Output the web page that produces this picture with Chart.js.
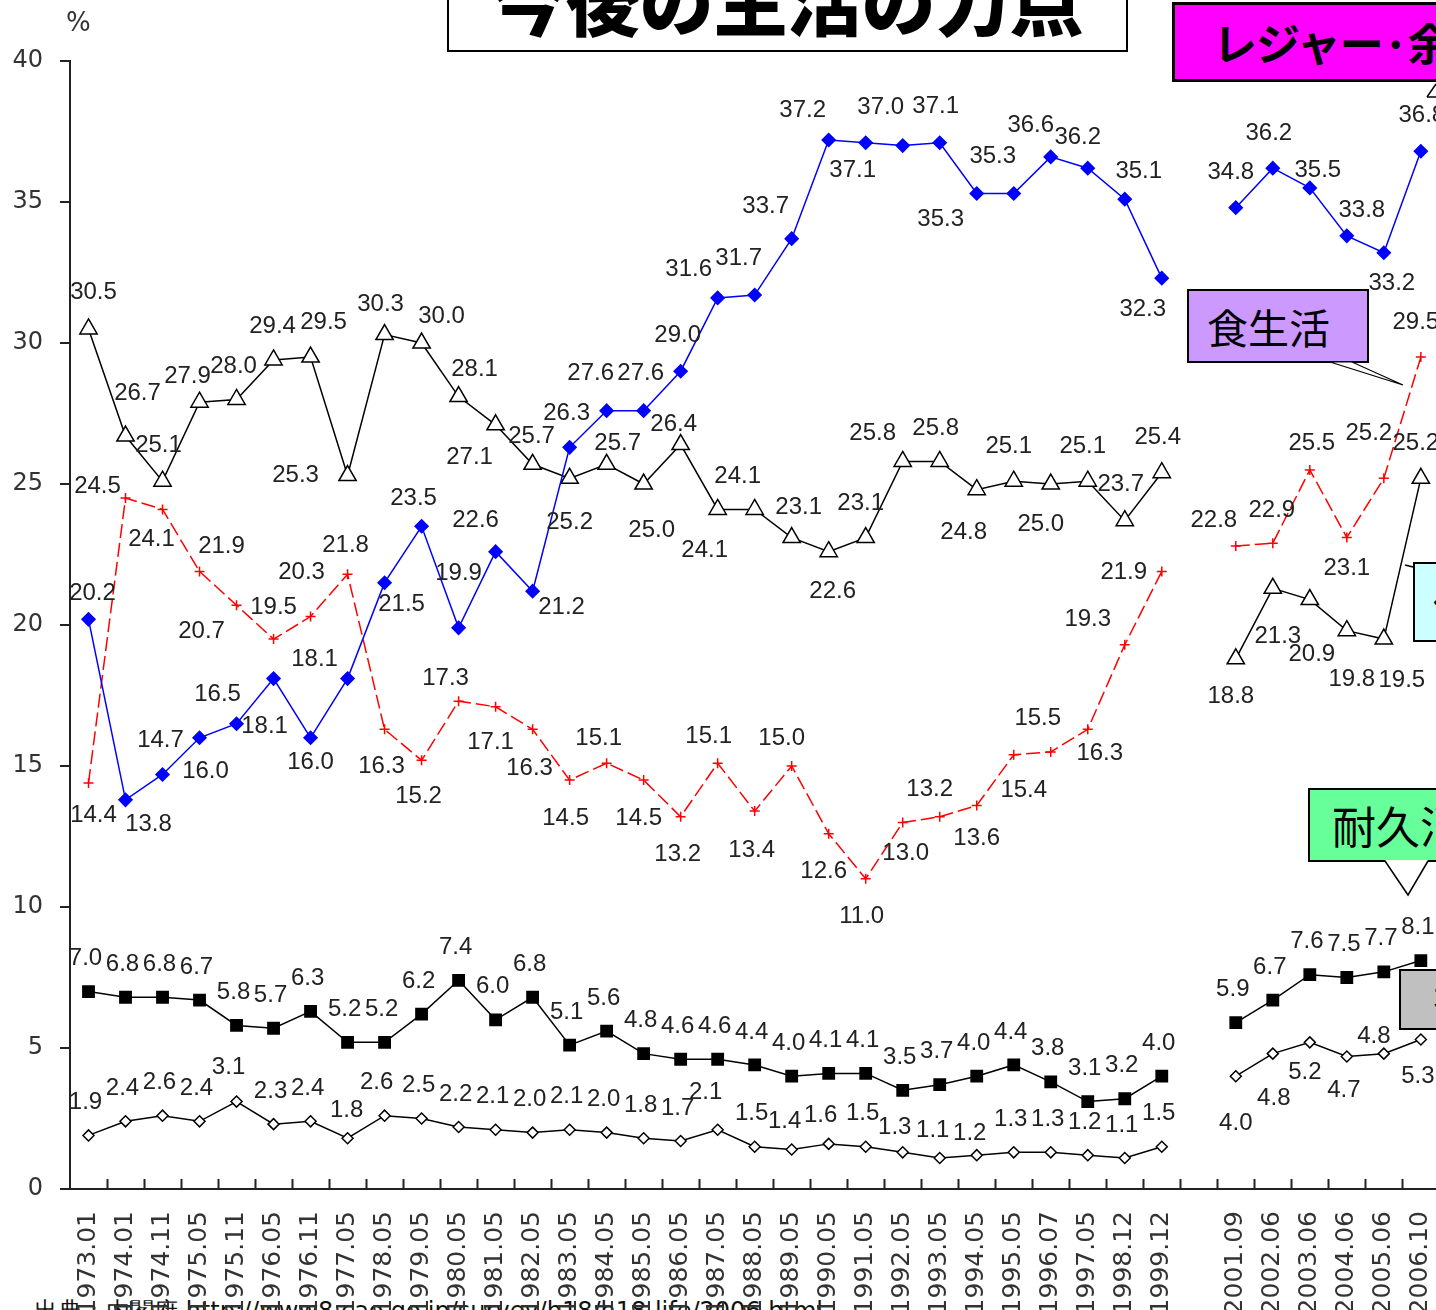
<!DOCTYPE html>
<html>
<head>
<meta charset="utf-8">
<script src="https://cdn.jsdelivr.net/npm/chart.js@4.4.1/dist/chart.umd.min.js"></script>
<style>
  html, body { margin: 0; padding: 0; background: #fff; }
  #wrap { position: relative; width: 1436px; height: 1310px; overflow: hidden; background: #fff; }
  #chart { position: absolute; left: 0; top: 0; }
  .box { position: absolute; box-sizing: border-box; border: 2px solid #000; color: #000;
         font-family: "Noto Sans CJK JP", sans-serif; white-space: nowrap; }
  #title { left: 447px; top: -50px; width: 681px; height: 102px; background: #fff; text-align: center;
           font-size: 74px; line-height: 74px; padding-top: 9px; font-weight: 900; }
  #pct { position: absolute; left: 66px; top: 7px; font: 26px "DejaVu Sans", sans-serif; color: #333; }
  #src { position: absolute; left: 34px; top: 1295px; font: 24px "DejaVu Sans", sans-serif; color: #111; white-space: nowrap; }
  svg { position: absolute; left: 0; top: 0; }
</style>
</head>
<body>
<div id="wrap">
  <div id="src">出典：内閣府 http://www8.cao.go.jp/survey/h18/h18-life/2006.html</div>
  <canvas id="chart" width="1510" height="1310"></canvas>
  <div id="pct">%</div>
  <div class="box" id="title">今後の生活の力点</div>
  <div class="box" style="left:1172px;top:2px;width:330px;height:80px;border-width:3px;background:#FF00FF;font-size:44px;line-height:74px;padding-left:38px;font-weight:bold;letter-spacing:-1px;">レジャー·余暇生活</div>
  <div class="box" style="left:1187px;top:289px;width:182px;height:74px;background:#CC99FF;font-size:41px;line-height:70px;padding-left:18px;">食生活</div>
  <div class="box" style="left:1413px;top:562px;width:200px;height:80px;background:#CCFFFF;font-size:41px;line-height:76px;padding-left:18px;">住生活</div>
  <div class="box" style="left:1308px;top:788px;width:300px;height:74px;background:#66FF99;font-size:44px;line-height:70px;padding-left:22px;">耐久消費財</div>
  <div class="box" style="left:1399px;top:969px;width:200px;height:61px;background:#C0C0C0;font-size:41px;line-height:57px;padding-left:32px;">衣生活</div>
  <svg width="1436" height="1310">
    <polygon points="1330,362 1352,362 1403,385" fill="#fff" stroke="#000" stroke-width="1.2"/>
    <polygon points="1385,860 1428,860 1408,895" fill="#fff" stroke="none"/>
    <polyline points="1385,861 1408,895 1428,861" fill="none" stroke="#000" stroke-width="1.5"/>
    <line x1="1405" y1="565" x2="1413" y2="567" stroke="#000" stroke-width="1.5"/>
    <polyline points="1427,97 1436,84" fill="none" stroke="#000" stroke-width="1.5"/>
    <line x1="1427" y1="97" x2="1436" y2="97" stroke="#000" stroke-width="1.5"/>
  </svg>
</div>
<script>
// survey dates (one empty slot between 1999.12 and 2001.09, one after 2006.10)
const categories = ['1973.01', '1974.01', '1974.11', '1975.05', '1975.11', '1976.05', '1976.11', '1977.05',
  '1978.05', '1979.05', '1980.05', '1981.05', '1982.05', '1983.05', '1984.05', '1985.05', '1986.05',
  '1987.05', '1988.05', '1989.05', '1990.05', '1991.05', '1992.05', '1993.05', '1994.05', '1995.05',
  '1996.07', '1997.05', '1998.12', '1999.12', '', '2001.09', '2002.06', '2003.06', '2004.06', '2005.06',
  '2006.10', ''];

const leisure = [20.2, 13.8, 14.7, 16.0, 16.5, 18.1, 16.0, 18.1, 21.5, 23.5, 19.9, 22.6, 21.2, 26.3, 27.6,
  27.6, 29.0, 31.6, 31.7, 33.7, 37.2, 37.1, 37.0, 37.1, 35.3, 35.3, 36.6, 36.2, 35.1, 32.3, null,
  34.8, 36.2, 35.5, 33.8, 33.2, 36.8, null];
const food = [14.4, 24.5, 24.1, 21.9, 20.7, 19.5, 20.3, 21.8, 16.3, 15.2, 17.3, 17.1, 16.3, 14.5, 15.1,
  14.5, 13.2, 15.1, 13.4, 15.0, 12.6, 11.0, 13.0, 13.2, 13.6, 15.4, 15.5, 16.3, 19.3, 21.9, null,
  22.8, 22.9, 25.5, 23.1, 25.2, 29.5, null];
const housing = [30.5, 26.7, 25.1, 27.9, 28.0, 29.4, 29.5, 25.3, 30.3, 30.0, 28.1, 27.1, 25.7, 25.2, 25.7,
  25.0, 26.4, 24.1, 24.1, 23.1, 22.6, 23.1, 25.8, 25.8, 24.8, 25.1, 25.0, 25.1, 23.7, 25.4, null,
  18.8, 21.3, 20.9, 19.8, 19.5, 25.2, null];
const durables = [7.0, 6.8, 6.8, 6.7, 5.8, 5.7, 6.3, 5.2, 5.2, 6.2, 7.4, 6.0, 6.8, 5.1, 5.6,
  4.8, 4.6, 4.6, 4.4, 4.0, 4.1, 4.1, 3.5, 3.7, 4.0, 4.4, 3.8, 3.1, 3.2, 4.0, null,
  5.9, 6.7, 7.6, 7.5, 7.7, 8.1, null];
const clothing = [1.9, 2.4, 2.6, 2.4, 3.1, 2.3, 2.4, 1.8, 2.6, 2.5, 2.2, 2.1, 2.0, 2.1, 2.0,
  1.8, 1.7, 2.1, 1.5, 1.4, 1.6, 1.5, 1.3, 1.1, 1.2, 1.3, 1.3, 1.2, 1.1, 1.5, null,
  4.0, 4.8, 5.2, 4.7, 4.8, 5.3, null];

const yTicks = [0, 5, 10, 15, 20, 25, 30, 35, 40];

// where each value label sits relative to its marker [dx, dy]
const leisurePos = [[4, -26], [23, 25], [-2, -34], [6, 34], [-19, -29], [-9, 48], [0, 25], [-33, -19],
  [17, 22], [-8, -28], [0, -54], [-20, -31], [29, 16], [-3, -34], [-16, -37], [-3, -37], [-3, -36],
  [-29, -29], [-16, -37], [-26, -32], [-26, -30], [-13, 28], [-22, -38], [-4, -36], [-36, 26], [-21, -37],
  [-20, -32], [-10, -31], [14, -28], [-19, 31], null, [-5, -35], [-4, -35], [8, -18], [15, -25], [8, 31],
  [1, -36], null];
const foodPos = [[5, 32], [-28, -12], [-11, 30], [22, -25], [-35, 26], [0, -32], [-9, -44], [-2, -29],
  [-3, 37], [-3, 36], [-13, -23], [-5, 36], [-3, 39], [-4, 38], [-8, -25], [-5, 38], [-3, 38], [-9, -27],
  [-3, 39], [-10, -28], [-5, 38], [-4, 38], [3, 31], [-10, -27], [0, 33], [10, 36], [-13, -34], [12, 24],
  [-37, -25], [-38, 1], null, [-22, -26], [-1, -33], [2, -27], [0, 31], [-15, -45], [-5, -35], null];
const housingPos = [[5, -37], [12, -43], [-4, -36], [-12, -26], [-3, -33], [-1, -34], [13, -35], [-52, 0],
  [-4, -30], [20, -27], [16, -27], [-26, 33], [-1, -28], [0, 44], [11, -21], [8, 46], [-7, -20], [-13, 41],
  [-17, -33], [7, -30], [4, 40], [-5, -34], [-30, -28], [-4, -33], [-13, 43], [-5, -35], [-10, 40],
  [-5, -35], [-4, -36], [-4, -35], null, [-5, 38], [5, 48], [2, 55], [5, 49], [18, 41], [-5, -35], null];
const durablesPos = {};
const clothingPos = { 4: [-8, -34], 7: [-1, -28], 8: [-8, -33], 17: [-12, -37], 19: [-7, -28], 20: [-8, -29],
  22: [-8, -25], 23: [-7, -28], 24: [-7, -22], 31: [0, 47], 32: [1, 45], 33: [-5, 30], 34: [-3, 34],
  35: [-10, -17], 36: [-3, 37] };

Chart.defaults.font.family = "'Liberation Sans', sans-serif";
Chart.defaults.color = '#333';

function series(label, data, color, style, radius, fill, labelPos, extra) {
  return Object.assign({
    label, data, labelPos,
    borderColor: color, borderWidth: 1.5,
    pointStyle: style, pointRadius: radius, pointHoverRadius: radius,
    pointBackgroundColor: fill, pointBorderColor: color, pointBorderWidth: 1.5,
    tension: 0, spanGaps: false, fill: false,
  }, extra || {});
}

const valueLabels = {
  id: 'valueLabels',
  afterDatasetsDraw(chart) {
    const ctx = chart.ctx;
    ctx.save();
    ctx.font = "24px 'Liberation Sans', sans-serif";
    ctx.fillStyle = '#222';
    ctx.textAlign = 'center';
    ctx.textBaseline = 'middle';
    chart.data.datasets.forEach((ds, di) => {
      const meta = chart.getDatasetMeta(di);
      ds.data.forEach((v, i) => {
        if (v == null) return;
        const off = ds.labelPos[i] || [-3, -33];
        const pt = meta.data[i];
        ctx.fillText(v.toFixed(1), pt.x + off[0], pt.y + off[1]);
      });
    });
    ctx.restore();
  },
};

// category boundary ticks pointing up into the plot
const innerTicks = {
  id: 'innerTicks',
  afterDraw(chart) {
    const x = chart.scales.x;
    const ctx = chart.ctx;
    const n = categories.length;
    const step = (x.right - x.left) / n;
    const yb = chart.chartArea.bottom;
    ctx.save();
    ctx.strokeStyle = '#222';
    ctx.lineWidth = 2;
    ctx.beginPath();
    for (let i = 1; i <= n; i++) {
      const px = Math.round(x.left + i * step) + 0.5;
      ctx.moveTo(px, yb);
      ctx.lineTo(px, yb - 10);
    }
    ctx.stroke();
    ctx.restore();
  },
};

new Chart(document.getElementById('chart').getContext('2d'), {
  type: 'line',
  data: {
    labels: categories,
    datasets: [
      series('レジャー·余暇生活', leisure, '#0000FF', 'rectRot', 6.5, '#0000FF', leisurePos),
      series('食生活', food, '#FF0000', 'cross', 5, '#FF0000', foodPos, { borderDash: [14, 5] }),
      series('住生活', housing, '#000', 'triangle', 10, '#fff', housingPos),
      series('耐久消費財', durables, '#000', 'rect', 8, '#000', durablesPos),
      series('衣生活', clothing, '#000', 'rectRot', 5.5, '#fff', clothingPos),
    ],
  },
  options: {
    responsive: false,
    animation: false,
    layout: { padding: { top: 61, right: 0, left: 0, bottom: 0 } },
    plugins: { legend: { display: false }, tooltip: { enabled: false } },
    scales: {
      x: {
        offset: true,
        grid: { display: false, drawTicks: false },
        border: { color: '#222', width: 2 },
        ticks: {
          autoSkip: false, minRotation: 90, maxRotation: 90, padding: 22,
          color: '#333', font: { family: "'DejaVu Sans', sans-serif", size: 25 },
        },
        afterFit(scale) { scale.height = 121; },
      },
      y: {
        min: 0, max: 40,
        afterBuildTicks(scale) { scale.ticks = yTicks.map((v) => ({ value: v })); },
        grid: { drawOnChartArea: false, drawTicks: true, tickLength: 10, color: '#222', lineWidth: 2 },
        border: { color: '#222', width: 2 },
        ticks: { padding: 17, color: '#333', font: { family: "'DejaVu Sans', sans-serif", size: 24 } },
        afterFit(scale) { scale.width = 70; },
      },
    },
  },
  plugins: [valueLabels, innerTicks],
});
</script>
</body>
</html>
